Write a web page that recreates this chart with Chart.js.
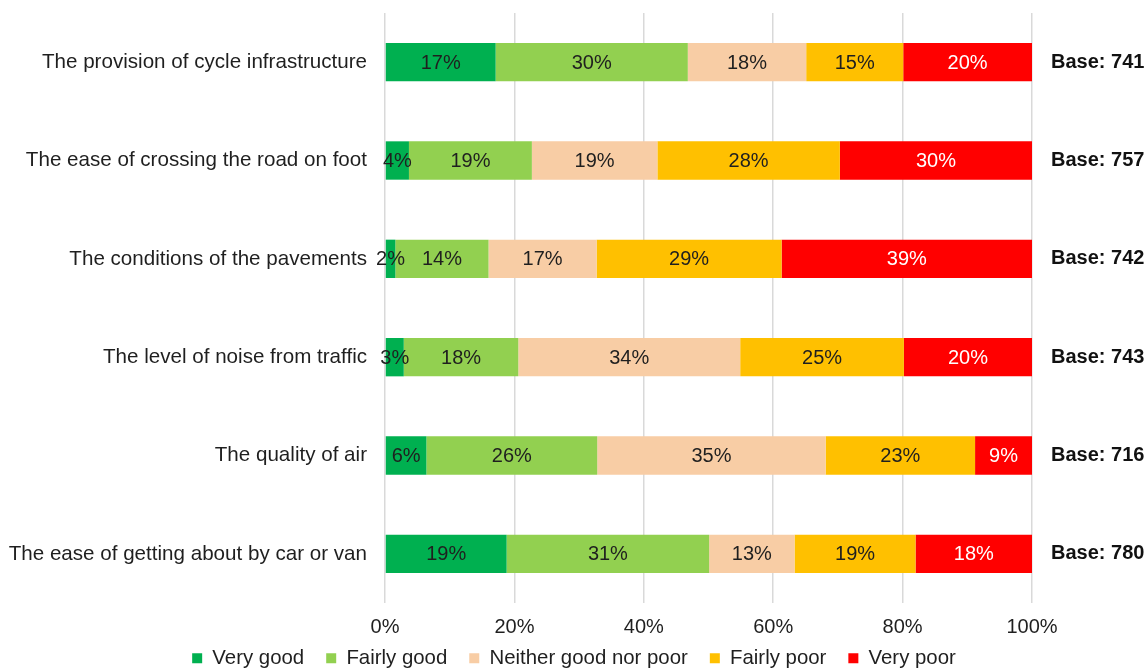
<!DOCTYPE html>
<html lang="en">
<head>
  <meta charset="UTF-8">
  <title>Rating of street conditions</title>
  <script src="https://cdn.jsdelivr.net/npm/chart.js"></script>
  <style>
    html, body { margin: 0; padding: 0; background: #fff; overflow: hidden; }
    .chart-box { width: 1148px; height: 669px; position: relative; }
  </style>
</head>
<body>
  <div class="chart-box">
    <canvas id="ratingChart"></canvas>
  </div>

  <script>
    // categories (top to bottom) and the base sizes shown on the right
    const topics = [
      'The provision of cycle infrastructure',
      'The ease of crossing the road on foot',
      'The conditions of the pavements',
      'The level of noise from traffic',
      'The quality of air',
      'The ease of getting about by car or van'
    ];
    const baseLabels = ['Base: 741', 'Base: 757', 'Base: 742', 'Base: 743', 'Base: 716', 'Base: 780'];

    // shares in %
    const veryGood    = [17.1,  3.7,  1.6,  2.9,  6.4, 18.8];
    const fairlyGood  = [29.7, 19.0, 14.4, 17.7, 26.4, 31.3];
    const neither     = [18.3, 19.4, 16.7, 34.3, 35.3, 13.2];
    const fairlyPoor  = [15.0, 28.2, 28.6, 25.3, 23.1, 18.7];
    const veryPoor    = [19.9, 29.7, 38.7, 19.8,  8.8, 18.0];

    const axisTicks = [0, 20, 40, 60, 80, 100];

    const FONT = '"Liberation Sans", Arial, sans-serif';
    const TEXT = '#1f1f1f';

    // centred % labels on each segment
    const segmentLabels = {
      id: 'segmentLabels',
      afterDatasetsDraw(chart) {
        const ctx = chart.ctx;
        ctx.save();
        ctx.font = '20px ' + FONT;
        ctx.textAlign = 'center';
        ctx.textBaseline = 'middle';
        chart.data.datasets.forEach((ds, i) => {
          const meta = chart.getDatasetMeta(i);
          meta.data.forEach((bar, j) => {
            const p = bar.getProps(['x', 'y', 'base'], true);
            ctx.fillStyle = ds.labelColor;
            ctx.fillText(Math.round(ds.data[j]) + '%', (p.x + p.base) / 2, p.y + 1);
          });
        });
        ctx.restore();
      }
    };

    // pull the legend up a bit closer to the axis labels
    const legendNudge = {
      id: 'legendNudge',
      afterLayout(chart) {
        if (chart.legend) {
          chart.legend.top -= 13;
          chart.legend.bottom -= 13;
        }
      }
    };

    const noVertPad = (s) => { s.paddingTop = 0; s.paddingBottom = 0; };

    const ctx = document.getElementById('ratingChart').getContext('2d');
    new Chart(ctx, {
      type: 'bar',
      data: {
        labels: topics,
        datasets: [
          { label: 'Very good', data: veryGood, backgroundColor: '#00b050', labelColor: TEXT },
          { label: 'Fairly good', data: fairlyGood, backgroundColor: '#92d050', labelColor: TEXT },
          { label: 'Neither good nor poor', data: neither, backgroundColor: '#f8cda5', labelColor: TEXT },
          { label: 'Fairly poor', data: fairlyPoor, backgroundColor: '#ffc000', labelColor: TEXT },
          { label: 'Very poor', data: veryPoor, backgroundColor: '#ff0000', labelColor: '#ffffff' }
        ]
      },
      options: {
        indexAxis: 'y',
        responsive: true,
        maintainAspectRatio: false,
        animation: false,
        barPercentage: 0.39,
        categoryPercentage: 1,
        layout: { padding: { top: 13, bottom: -22.4, left: 0, right: 0 } },
        plugins: {
          tooltip: { enabled: false },
          legend: {
            position: 'bottom',
            labels: {
              font: { family: FONT, size: 20.4 },
              color: TEXT,
              boxWidth: 10,
              boxHeight: 10,
              padding: 22
            }
          }
        },
        scales: {
          x: {
            stacked: true,
            min: 0,
            max: 100,
            afterBuildTicks: (s) => { s.ticks = axisTicks.map(v => ({ value: v })); },
            grid: { color: '#d9d9d9', lineWidth: 1.5, drawTicks: false },
            border: { display: false },
            ticks: {
              font: { family: FONT, size: 20 },
              color: TEXT,
              padding: 12,
              callback: (v) => v + '%'
            },
            afterFit: (s) => { s.height = 36; }
          },
          y: {
            stacked: true,
            grid: { display: false, drawTicks: false },
            border: { display: false },
            ticks: { font: { family: FONT, size: 20.6 }, color: TEXT, padding: 18 },
            afterFit: (s) => { s.width = 385; noVertPad(s); }
          },
          y2: {
            type: 'category',
            position: 'right',
            labels: baseLabels,
            offset: true,
            grid: { display: false, drawTicks: false },
            border: { display: false },
            ticks: { font: { family: FONT, size: 20, weight: 'bold' }, color: '#111111', padding: 19 },
            afterFit: (s) => { s.width = 116; noVertPad(s); }
          }
        }
      },
      plugins: [segmentLabels, legendNudge]
    });
  </script>
</body>
</html>
